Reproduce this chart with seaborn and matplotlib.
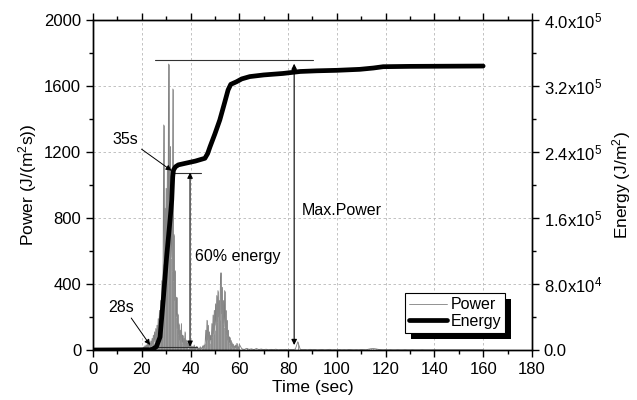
import numpy as np
import seaborn as sns
import matplotlib
matplotlib.use("Agg")
import matplotlib.pyplot as plt
from matplotlib.patches import Rectangle
from matplotlib.ticker import MultipleLocator, FixedLocator, FixedFormatter

# ---- data ----
# energy curve (J/m^2)
energy_time = [0, 23.5, 24.5, 26, 27.5, 28.8, 30.2, 31.6, 32.3, 32.7, 33.0, 33.8, 35, 38,
               42, 45.9, 47, 48, 50, 52, 54, 55.4, 56.5, 58.9, 61, 64.3, 70, 77.9, 85,
               91.7, 100, 109.4, 115, 119, 130, 145, 160]
energy_values = [0, 300, 1000, 4000, 15800, 60600, 113000, 157600, 182000, 210000, 218000,
                 222000, 224400, 226400, 229000, 232400, 238000, 246400, 262000, 278800,
                 300000, 315200, 322000, 325200, 328600, 331400, 333400, 335200, 337600,
                 338400, 339000, 340200, 341800, 343400, 343800, 344000, 344200]

# power signal (J/(m^2 s)), three sampled stretches
lead_t0, lead_dt = 0.0, 1.0
lead_power = [0, 0, 0, 1, 0, 0, 1, 0, 0, 1, 0, 0, 1, 0, 2, 0, 1, 2, 1, 3]

core_t0, core_dt = 20.0, 0.25
core_power = [5, 12, 3, 18, 6, 25, 8, 30, 10, 35, 12, 40, 15, 45, 20, 55,
              25, 70, 35, 90, 40, 110, 50, 130, 60, 150, 80, 190, 100, 240, 120, 300,
              180, 420, 260, 520, 1364, 400, 860, 450, 980, 520, 1100, 600, 1733, 640, 1000, 1232,
              560, 900, 480, 1582, 420, 700, 300, 480, 200, 320, 130, 220, 90, 160, 60, 120,
              45, 160, 40, 90, 30, 70, 25, 110, 20, 60, 18, 45, 15, 40, 12, 30,
              10, 8, 25, 6, 20, 10, 30, 5, 18, 8, 22, 6, 15, 4, 12, 6,
              20, 5, 14, 8, 25, 10, 30, 15, 45, 120, 40, 180, 60, 150, 50, 110,
              40, 90, 60, 160, 80, 212, 100, 240, 120, 280, 150, 330, 170, 360, 200, 300,
              180, 400, 468, 220, 380, 160, 300, 140, 360, 120, 240, 90, 180, 60, 120, 40,
              80, 30, 60, 20, 45, 15, 35, 12, 25, 10, 30, 8, 40, 10, 20, 6, 35]

tail_t0, tail_dt = 61.0, 1.0
tail_power = [8, 3, 10, 4, 7, 2, 9, 3, 6, 2, 5, 1, 4, 2, 5, 1, 3, 2, 4, 1,
              3, 2, 6, 50, 4, 2, 3, 1, 4, 2, 3, 1, 2, 3, 1, 2, 4, 1, 2, 1,
              3, 1, 2, 1, 3, 2, 1, 2, 1, 3, 2, 1, 5, 8, 9, 7, 4, 2, 1, 2,
              1, 2, 1, 1, 2, 1, 1, 2, 1, 1, 2, 1, 1, 1, 2, 1, 1, 1, 1, 2,
              1, 1, 1, 1, 1, 1, 1, 1, 1, 1, 1, 1, 1, 1, 1, 1, 1, 1, 1, 1]

power_time = np.concatenate([lead_t0 + lead_dt * np.arange(len(lead_power)),
                             core_t0 + core_dt * np.arange(len(core_power)),
                             tail_t0 + tail_dt * np.arange(len(tail_power))])
power_values = np.array(lead_power + core_power + tail_power, dtype=float)

energy_ticks = [0, 80000, 160000, 240000, 320000, 400000]
energy_labels = ["0.0", "8.0x10$^4$", "1.6x10$^5$", "2.4x10$^5$", "3.2x10$^5$", "4.0x10$^5$"]

# ---- style ----
sns.set_style("ticks")
plt.rcParams["font.family"] = ["Liberation Sans", "DejaVu Sans"]
plt.rcParams["mathtext.fontset"] = "custom"
plt.rcParams["mathtext.rm"] = "Liberation Sans"
plt.rcParams["mathtext.default"] = "regular"
for key in ("text.color", "axes.labelcolor", "xtick.color", "ytick.color", "axes.edgecolor"):
    plt.rcParams[key] = "black"

fig = plt.figure(figsize=(6.37, 4.0), dpi=100)
ax = fig.add_axes([0.146, 0.125, 0.689, 0.825])
ax2 = ax.twinx()

sns.lineplot(x=power_time, y=power_values, ax=ax, color="#808080", lw=0.6,
             estimator=None, sort=False, label="Power")
ax.vlines(power_time, 0, power_values, color="#8a8a8a", lw=0.6)
sns.lineplot(x=energy_time, y=energy_values, ax=ax2, color="black", lw=3.4,
             estimator=None, sort=False, label="Energy", solid_capstyle="round")

ax.set_xlim(0, 180)
ax.set_ylim(0, 2000)
ax2.set_ylim(0, 400000)

ax.xaxis.set_major_locator(MultipleLocator(20))
ax.xaxis.set_minor_locator(MultipleLocator(10))
ax.yaxis.set_major_locator(MultipleLocator(400))
ax.yaxis.set_minor_locator(MultipleLocator(200))
ax2.yaxis.set_major_locator(FixedLocator(energy_ticks))
ax2.yaxis.set_major_formatter(FixedFormatter(energy_labels))
ax2.yaxis.set_minor_locator(MultipleLocator(40000))

ax.grid(True, which="major", color="#b8b8b8", ls=(0, (3, 3)), lw=0.6)
ax.tick_params(which="both", direction="out", top=True, right=False, labelsize=12, width=1)
ax.tick_params(which="major", length=5)
ax.tick_params(which="minor", length=3)
ax2.tick_params(which="both", direction="out", labelsize=12, width=1)
ax2.tick_params(which="major", length=5)
ax2.tick_params(which="minor", length=3)
for a in (ax, ax2):
    for s in a.spines.values():
        s.set_visible(True)
        s.set_linewidth(1.0)
        s.set_color("black")

ax.set_xlabel("Time (sec)", fontsize=12.5, labelpad=2)
ax.set_ylabel("Power (J/(m$^2$s))", fontsize=12.5, labelpad=4)
ax2.set_ylabel("Energy (J/m$^2$)", fontsize=12.5, labelpad=6)

# ---- annotations ----
ax.plot([25.4, 90.2], [1760, 1760], color="#333333", lw=0.8)
ax.plot([32.2, 44.1], [1075, 1075], color="#333333", lw=0.8)
ax.plot([24.0, 42.5], [20, 20], color="#333333", lw=0.8)
dbl = dict(arrowstyle="<|-|>", color="black", lw=0.8, mutation_scale=8, shrinkA=0, shrinkB=0)
ax.annotate("", xy=(39.8, 1075), xytext=(39.8, 20), arrowprops=dbl)
ax.annotate("", xy=(82.5, 1735), xytext=(82.5, 30), arrowprops=dbl)
one = dict(arrowstyle="-|>", color="black", lw=0.7, mutation_scale=8, shrinkA=0, shrinkB=0)
ax.annotate("35s", xy=(32.2, 1087), xytext=(8, 1277), fontsize=11.5, va="center",
            arrowprops=dict(one, relpos=(1.0, 0.0)))
ax.annotate("28s", xy=(23.4, 30), xytext=(6.3, 259), fontsize=11.5, va="center",
            arrowprops=dict(one, relpos=(0.8, 0.0)))
ax.text(41.8, 565, "60% energy", fontsize=11.5, va="center")
ax.text(85.5, 848, "Max.Power", fontsize=11.5, va="center")

# ---- legend with a solid black drop shadow ----
h1, l1 = ax.get_legend_handles_labels()
h2, l2 = ax2.get_legend_handles_labels()
ax.get_legend().remove()
ax2.get_legend().remove()
leg = ax2.legend(h1 + h2, l1 + l2, loc="lower left", bbox_to_anchor=(0.711, 0.052),
                 fontsize=11.5, frameon=True, fancybox=False, edgecolor="black",
                 framealpha=1, borderpad=0.25, labelspacing=0.1, handlelength=2.4,
                 handletextpad=0.2, borderaxespad=0)
leg.get_frame().set_linewidth(0.8)
leg.set_zorder(10)

fig.canvas.draw()
bb = leg.get_window_extent().transformed(fig.transFigure.inverted())
dx, dy = 6 / 637, 6 / 400
fig.add_artist(Rectangle((bb.x0 + dx, bb.y0 - dy), bb.width, bb.height,
                         transform=fig.transFigure, facecolor="black",
                         edgecolor="none", zorder=5))
# redraw the legend above the shadow
ax2.set_zorder(ax.get_zorder() + 1)
leg.remove()
fig.legends.append(leg)
leg.set_figure(fig)

fig.savefig("out.png", dpi=100)
